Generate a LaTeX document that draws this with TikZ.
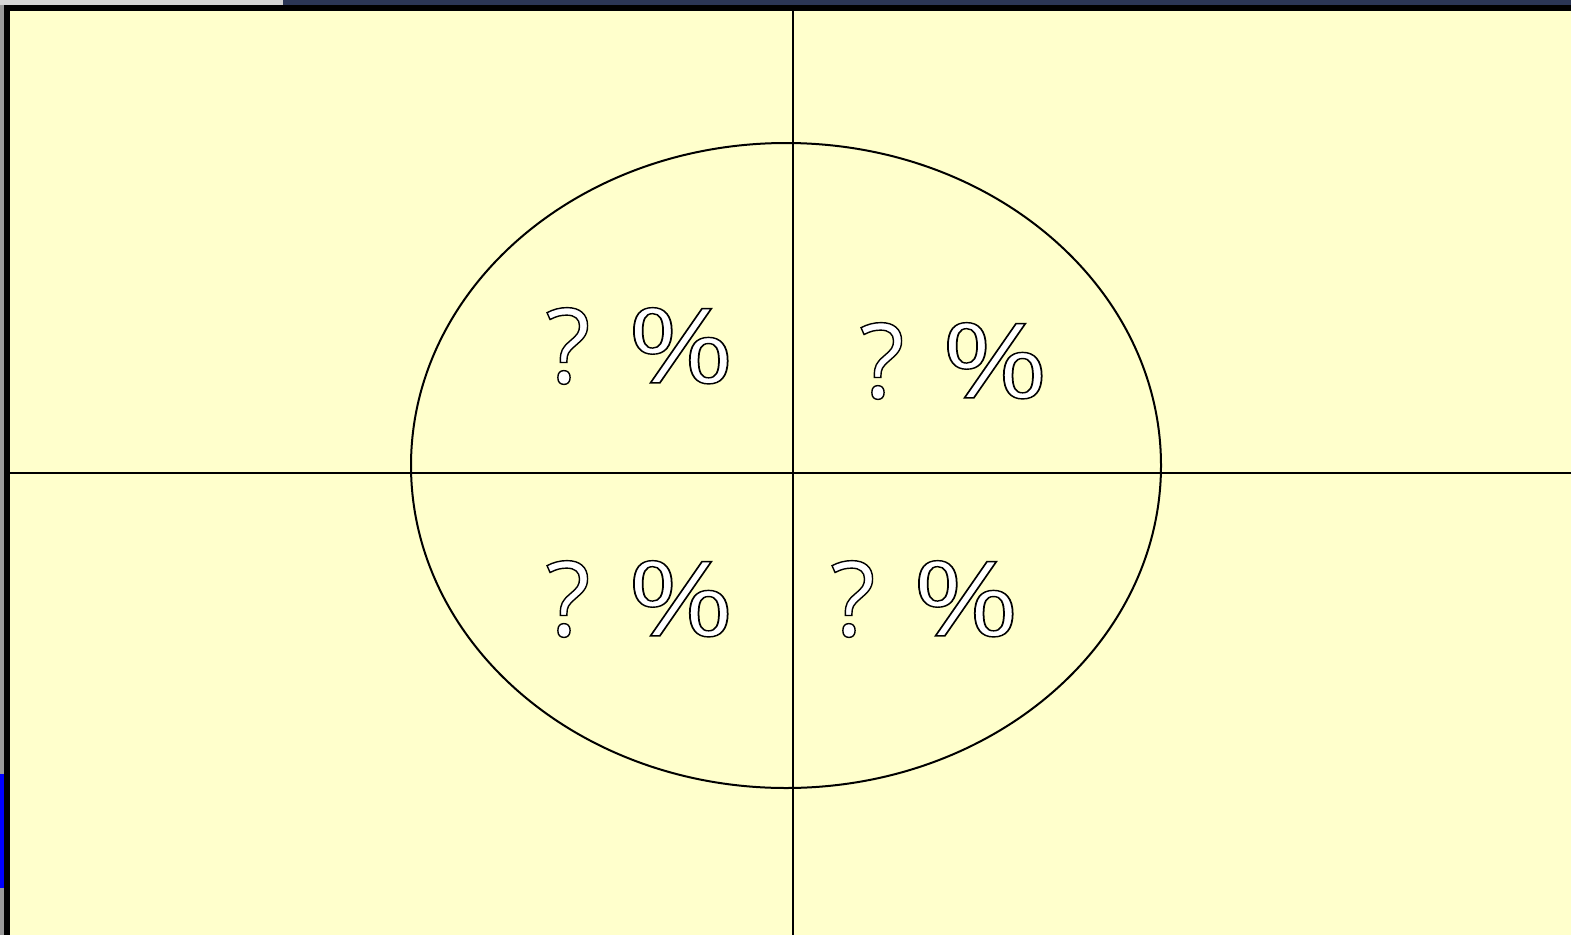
\documentclass[tikz,border=0pt]{standalone}
\usepackage{fontspec}
\usetikzlibrary{shapes.geometric}
\setmainfont{Open Sans}
\definecolor{paper}{HTML}{FFFFCC}
\definecolor{navy}{HTML}{2B3656}
\definecolor{ltgray}{HTML}{D4D4D4}
\definecolor{midgray}{HTML}{999999}
\newcommand{\outlinetext}[1]{\special{pdf:literal direct 2 Tr 1.4 w 0 G 1 g}#1\special{pdf:literal direct 0 Tr}}
\newcommand{\qpct}{\outlinetext{?\hspace{37pt}\scalebox{1.25}[1]{\%}}}
\tikzset{
  pct/.style={font=\fontsize{104}{104}\selectfont, inner sep=0pt, anchor=center},
  rule/.style={line width=2pt, draw=black}
}
\begin{document}
\begin{tikzpicture}[x=1pt,y=-1pt]
\useasboundingbox (0,0) rectangle (1571,935);
\fill[midgray] (0,0) rectangle (1571,935);
\fill[ltgray] (0,0) rectangle (283,5);
\fill[navy] (283,0) rectangle (1571,5);
\fill[blue] (0,774) rectangle (4,888);
\fill[black] (4,5) rectangle (1571,935);
\fill[paper] (10,11) rectangle (1571,935);
\coordinate (top) at (793,11);
\coordinate (bot) at (793,935);
\coordinate (lft) at (10,472.5);
\coordinate (rgt) at (1571,472.5);
\draw[rule] (top) -- (bot);
\draw[rule] (lft) -- (rgt);
\node[draw=black, line width=2pt, ellipse, minimum width=750pt, minimum height=645pt, inner sep=0pt] (ell) at (786,465.5) {};
\node[pct] (tl) at (640,346) {\qpct};
\node[pct] (tr) at (954,361) {\qpct};
\node[pct] (bl) at (640,599) {\qpct};
\node[pct] (br) at (925,599) {\qpct};
\end{tikzpicture}
\end{document}
